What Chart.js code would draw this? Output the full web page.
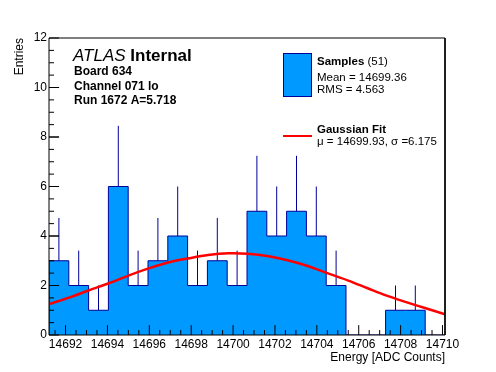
<!DOCTYPE html>
<html>
<head>
<meta charset="utf-8">
<script src="https://cdn.jsdelivr.net/npm/chart.js@4"></script>
<style>
  body { margin: 0; background: #fff; }
  canvas { display: block; }
</style>
</head>
<body>
<canvas id="myChart" width="496" height="372"></canvas>
<script>
// histogram: 20 bins across the axis range
const histMin = 14691.21;
const histMax = 14710.12;
const counts = [3, 2, 1, 6, 2, 3, 4, 2, 3, 2, 5, 4, 5, 4, 2, 0, 0, 1, 1, 0];
// upper error bar lengths
const errors = [1.73, 1.41, 1, 2.45, 1.41, 1.73, 2, 1.41, 1.73, 1.41, 2.24, 2, 2.24, 2, 1.41, 0, 0, 1, 1, 0];

// gaussian fit curve
const fitX = [14691.21, 14692.2, 14693.1, 14694.1, 14695.0, 14696.0, 14696.9, 14697.9, 14698.8, 14699.8, 14700.7,
    14701.7, 14702.6, 14703.6, 14704.5, 14705.5, 14706.4, 14707.3, 14708.3, 14709.2, 14710.12];
const fitY = [1.25, 1.52, 1.80, 2.10, 2.40, 2.70, 2.93, 3.10, 3.23, 3.30, 3.28,
    3.18, 3.02, 2.78, 2.50, 2.20, 1.90, 1.60, 1.32, 1.08, 0.84];

const xTickLabels = [14692, 14694, 14696, 14698, 14700, 14702, 14704, 14706, 14708, 14710];
const xMinorTicks = [14691.5, 14692, 14692.5, 14693, 14693.5, 14694, 14694.5, 14695, 14695.5, 14696, 14696.5,
    14697, 14697.5, 14698, 14698.5, 14699, 14699.5, 14700, 14700.5, 14701, 14701.5, 14702, 14702.5, 14703,
    14703.5, 14704, 14704.5, 14705, 14705.5, 14706, 14706.5, 14707, 14707.5, 14708, 14708.5, 14709, 14709.5, 14710];
const yTickLabels = [0, 2, 4, 6, 8, 10, 12];
const yMinorTicks = [0.5, 1, 1.5, 2, 2.5, 3, 3.5, 4, 4.5, 5, 5.5, 6, 6.5, 7, 7.5, 8, 8.5, 9, 9.5, 10, 10.5, 11, 11.5];

const azul = '#0099ff';
const azulOscuro = '#000099';
const fuente = '"Liberation Sans", Arial, Helvetica, sans-serif';

// largo de los ticks (10 px y 5 px) en unidades de cada eje
const tickAltoMayor = 0.40, tickAltoMenor = 0.20;
const tickAnchoMayor = 0.48, tickAnchoMenor = 0.24;

// construir puntos
const binW = (histMax - histMin) / counts.length;
let histPts = [{ x: histMin, y: 0 }];
counts.forEach((n, i) => histPts.push({ x: histMin + i * binW, y: n }));
histPts.push({ x: histMax, y: counts[counts.length - 1] });
histPts.push({ x: histMax, y: 0 });

let errPts = [];
counts.forEach((n, i) => {
    if (n > 0) {
        const xc = histMin + (i + 0.5) * binW;
        errPts.push({ x: xc, y: n });
        errPts.push({ x: xc, y: n + errors[i] });
        errPts.push({ x: xc, y: null });
    }
});

const fitPts = fitX.map((x, i) => ({ x: x, y: fitY[i] }));

// marco y ticks hacia dentro
const marcoPts = [
    { x: histMin, y: 0 }, { x: histMin, y: 12 }, { x: histMax, y: 12 }, { x: histMax, y: 0 }, { x: histMin, y: 0 }
];
let tickPts = [];
xMinorTicks.forEach(v => {
    const l = xTickLabels.includes(v) ? tickAltoMayor : tickAltoMenor;
    tickPts.push({ x: v, y: 0 }, { x: v, y: l }, { x: v, y: null });
});
yMinorTicks.concat(yTickLabels).forEach(v => {
    const l = yTickLabels.includes(v) ? tickAnchoMayor : tickAnchoMenor;
    tickPts.push({ x: histMin, y: v }, { x: histMin + l, y: v }, { x: histMin, y: null });
});

// textos ATLAS y leyenda
const textos = {
    id: 'textos',
    afterDraw(chart) {
        const g = chart.ctx;
        g.save();
        g.fillStyle = '#000';
        g.textBaseline = 'alphabetic';
        g.textAlign = 'left';
        g.font = 'italic 17px ' + fuente;
        g.fillText('ATLAS', 73, 61);
        const w = g.measureText('ATLAS ').width;
        g.font = 'bold 17px ' + fuente;
        g.fillText('Internal', 73 + w, 61);
        g.font = 'bold 12px ' + fuente;
        g.fillText('Board 634', 74, 75);
        g.fillText('Channel 071 lo', 74, 89.5);
        g.fillText('Run 1672 A=5.718', 74, 104);

        g.fillStyle = azul;
        g.fillRect(283.5, 53.5, 28, 43);
        g.strokeStyle = azulOscuro;
        g.lineWidth = 1;
        g.strokeRect(283.5, 53.5, 28, 43);
        g.strokeStyle = '#ff0000';
        g.lineWidth = 2;
        g.beginPath();
        g.moveTo(283, 136);
        g.lineTo(312, 136);
        g.stroke();

        g.fillStyle = '#000';
        g.font = 'bold 11.5px ' + fuente;
        g.fillText('Samples', 317, 65);
        const ws = g.measureText('Samples ').width;
        g.font = '11.5px ' + fuente;
        g.fillText('(51)', 317 + ws, 65);
        g.fillText('Mean = 14699.36', 317, 80.5);
        g.fillText('RMS = 4.563', 317, 93);
        g.font = 'bold 11.5px ' + fuente;
        g.fillText('Gaussian Fit', 317, 133);
        g.font = '11.5px ' + fuente;
        g.fillText('\u03bc = 14699.93, \u03c3 =6.175', 317, 145);
        g.restore();
    }
};

const ctx = document.getElementById('myChart');

new Chart(ctx, {
    type: 'line',
    data: {
        datasets: [{
            label: 'Marco',
            data: marcoPts,
            borderColor: '#000000',
            borderWidth: 1,
            pointRadius: 0,
            fill: false,
            clip: false,
            order: -2
        }, {
            label: 'Ticks',
            data: tickPts,
            borderColor: '#000000',
            borderWidth: 1,
            pointRadius: 0,
            spanGaps: false,
            fill: false,
            clip: false,
            order: -1
        }, {
            label: 'Gaussian Fit',
            data: fitPts,
            borderColor: '#ff0000',
            borderWidth: 2.5,
            pointRadius: 0,
            tension: 0.3,
            fill: false,
            order: 0
        }, {
            label: 'Errors',
            data: errPts,
            borderColor: azulOscuro,
            borderWidth: 1,
            pointRadius: 0,
            spanGaps: false,
            fill: false,
            order: 1
        }, {
            label: 'Samples',
            data: histPts,
            stepped: true,
            borderColor: azulOscuro,
            backgroundColor: azul,
            borderWidth: 1,
            pointRadius: 0,
            fill: 'origin',
            order: 2
        }]
    },
    plugins: [textos],
    options: {
        responsive: false,
        animation: false,
        layout: {
            padding: { top: 38, right: 51, left: 0, bottom: 0 }
        },
        scales: {
            x: {
                type: 'linear',
                min: histMin,
                max: histMax,
                afterBuildTicks: s => { s.ticks = xTickLabels.map(v => ({ value: v })); },
                afterFit: s => { s.height = 37; },
                grid: { display: false, drawTicks: false },
                border: { display: false },
                ticks: {
                    autoSkip: false,
                    maxRotation: 0,
                    padding: 2,
                    color: '#000',
                    font: { family: fuente, size: 12 },
                    callback: v => String(v)
                },
                title: {
                    display: true,
                    text: 'Energy [ADC Counts]',
                    align: 'end',
                    color: '#000',
                    font: { family: fuente, size: 12 },
                    padding: { top: 0, bottom: 7 }
                }
            },
            y: {
                min: 0,
                max: 12,
                afterBuildTicks: s => { s.ticks = yTickLabels.map(v => ({ value: v })); },
                afterFit: s => { s.width = 49; },
                grid: { display: false, drawTicks: false },
                border: { display: false },
                ticks: {
                    padding: 2,
                    color: '#000',
                    font: { family: fuente, size: 12 }
                },
                title: {
                    display: true,
                    text: 'Entries',
                    align: 'end',
                    color: '#000',
                    font: { family: fuente, size: 12 },
                    padding: { top: 12, bottom: 0 }
                }
            }
        },
        plugins: {
            legend: { display: false },
            tooltip: { enabled: false }
        }
    }
});
</script>
</body>
</html>
